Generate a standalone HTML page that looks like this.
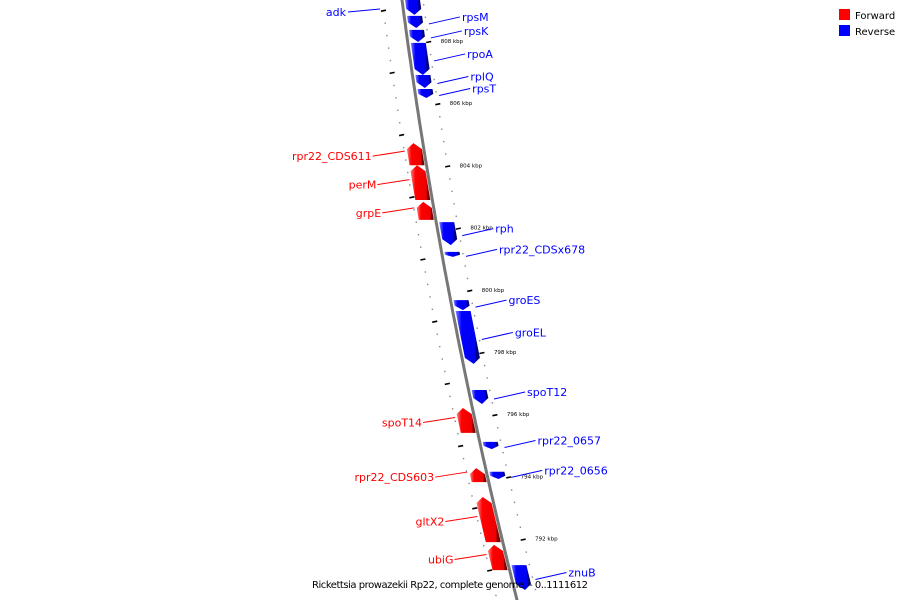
<!DOCTYPE html>
<html><head><meta charset="utf-8"><style>
html,body{margin:0;padding:0;background:#fff;}
svg{display:block;font-family:"DejaVu Sans","Liberation Sans",sans-serif;}
</style></head><body>
<svg id="map" width="900" height="600" viewBox="0 0 900 600" xmlns="http://www.w3.org/2000/svg">
<defs>
<linearGradient id="gr" x1="0" x2="1"><stop offset="0" stop-color="#ff8080"/><stop offset="0.25" stop-color="#ff0000"/><stop offset="0.8" stop-color="#ee0000"/><stop offset="0.85" stop-color="#800000"/><stop offset="1" stop-color="#700000"/></linearGradient>
<linearGradient id="gb" x1="0" x2="1"><stop offset="0" stop-color="#8080ff"/><stop offset="0.25" stop-color="#0000ff"/><stop offset="0.8" stop-color="#0000ee"/><stop offset="0.85" stop-color="#000080"/><stop offset="1" stop-color="#000070"/></linearGradient>
</defs>
<g id="track"></g>
<g id="dots"></g>
<g id="genes"></g>
<g id="labels"></g>
<g>
<rect x="839" y="9" width="11" height="11" fill="#ff0000"/>
<text x="855" y="19" font-size="10" fill="#000">Forward</text>
<rect x="839" y="25" width="11" height="11" fill="#0000ff"/>
<text x="855" y="35" font-size="10" fill="#000">Reverse</text>
</g>
<text x="312" y="588" font-size="10" textLength="276" fill="#000">Rickettsia prowazekii Rp22, complete genome. - 0..1111612</text>
</svg>
<script>
const geneNames = ["","rpsM","rpsK","rpoA","rplQ","rpsT","rpr22_CDS611","perM","grpE","rph","rpr22_CDSx678","groES","groEL","spoT12","spoT14","rpr22_0657","rpr22_0656","rpr22_CDS603","gltX2","ubiG","znuB"];
const geneStrand = [-1,-1,-1,-1,-1,-1,1,1,1,-1,-1,-1,-1,-1,1,-1,-1,1,1,1,-1];
const geneStartKbp = [809.35,808.84,808.39,807.97,806.94,806.49,804.75,804.04,802.86,802.21,801.25,799.70,799.35,796.81,796.23,795.14,794.18,794.30,793.37,791.83,791.18];
const geneEndKbp = [808.87,808.45,808.00,806.94,806.52,806.20,804.04,802.92,802.28,801.47,801.09,799.38,797.65,796.36,795.43,794.91,793.95,793.85,791.92,791.02,790.38];
const tickKbp = [808,806,804,802,800,798,796,794,792];
const tickLabels = ["808 kbp","806 kbp","804 kbp","802 kbp","800 kbp","798 kbp","796 kbp","794 kbp","792 kbp"];
const extraLabels = [["adk",-1,12,380,9]];

const NS="http://www.w3.org/2000/svg";
function yOf(k){return 42+(808-k)*31.1;}
function lineX(y){return 402+0.1317*y+0.0001*y*y;}
function mk(tag,attrs,parent){const e=document.createElementNS(NS,tag);for(const k in attrs)e.setAttribute(k,attrs[k]);parent.appendChild(e);return e;}
const track=document.getElementById('track'),dots=document.getElementById('dots'),genes=document.getElementById('genes'),labels=document.getElementById('labels');
// backbone
let d="";for(let y=-5;y<=605;y+=5){d+=(y==-5?"M":"L")+lineX(y).toFixed(1)+" "+y;}
let bb=mk('path',{d:d,stroke:'#777',"stroke-width":3,fill:'none'},track);


// ruler dots
for(let k=809.6;k>=789.6;k-=0.4){
  const y=yOf(k);
  const major=Math.abs((k*10)%10)<0.5||Math.abs((k*10)%10)>9.5;
  [-20,21].forEach(off=>{
    const kk=Math.round(k*10)/10;
    const isMajorR = off>0 && Math.abs(kk-Math.round(kk))<0.05 && Math.round(kk)%1===0;
    const isMajorL = off<0 && Math.abs((kk-0.2)-Math.round(kk-0.2))<0.05;
    const yy=off<0?y+6:y;
    const x=lineX(yy)+off;
    if(isMajorR||isMajorL){
      let t=mk('line',{x1:x-2.5,y1:yy+0.5,x2:x+2.5,y2:yy-0.5,stroke:'#000',"stroke-width":1.6},dots);
      
      
    }else{
      let c=mk('rect',{x:x-0.6,y:yy-0.6,width:1.4,height:1.4,fill:'#888'},dots);
      
      
    }
  });
}
tickKbp.forEach((k,i)=>{
  const y=yOf(k);
  let t=mk('text',{x:lineX(y)+33,y:y+1,"font-size":5.5,fill:'#000'},dots);
  t.textContent=tickLabels[i];
  
  
});
// genes
geneNames.forEach((n,i)=>{
  const y0=yOf(geneStartKbp[i]),y1=yOf(geneEndKbp[i]);
  const s=geneStrand[i];
  const a=s>0?-17:3, b=s>0?-2:18;
  const h=Math.min(6,(y1-y0)*0.45);
  let pts;
  if(s>0){ // arrow up at y0
    pts=[[lineX(y0+h)+a,y0+h],[lineX(y0)+(a+b)/2,y0],[lineX(y0+h)+b,y0+h],[lineX(y1)+b,y1],[lineX(y1)+a,y1]];
  }else{ // arrow down at y1
    pts=[[lineX(y0)+a,y0],[lineX(y0)+b,y0],[lineX(y1-h)+b,y1-h],[lineX(y1)+(a+b)/2,y1],[lineX(y1-h)+a,y1-h]];
  }
  let p=mk('polygon',{points:pts.map(q=>q[0].toFixed(1)+","+q[1].toFixed(1)).join(" "),fill:s>0?'url(#gr)':'url(#gb)'},genes);
  
  
  if(!n)return;
  const ym=(y0+y1)/2;
  const col=s>0?'#ff0000':'#0000ff';
  let ax,ay,tx,ty;
  if(s>0){ax=lineX(ym)-20;ay=ym-3;tx=ax-31;ty=ay+5;}
  else{ax=lineX(ym)+24;ay=ym+2;tx=ax+32;ty=ay-7;}
  mk('line',{x1:ax,y1:ay,x2:tx+(s>0?-1:-1),y2:ty,stroke:col,"stroke-width":1},labels);
  let t=mk('text',{x:s>0?tx-2:tx+1,y:ty+4,"font-size":11,fill:col,"text-anchor":s>0?'end':'start'},labels);
  t.textContent=n;
  
  
});
extraLabels.forEach(e=>{
  let l=mk('line',{x1:348,y1:e[2],x2:e[3],y2:e[4],stroke:'#0000ff',"stroke-width":1},labels);
  
  
  let t=mk('text',{x:346,y:e[2]+4,"font-size":11,fill:'#0000ff',"text-anchor":'end'},labels);
  t.textContent=e[0];
  
  
});
</script>
</body></html>
